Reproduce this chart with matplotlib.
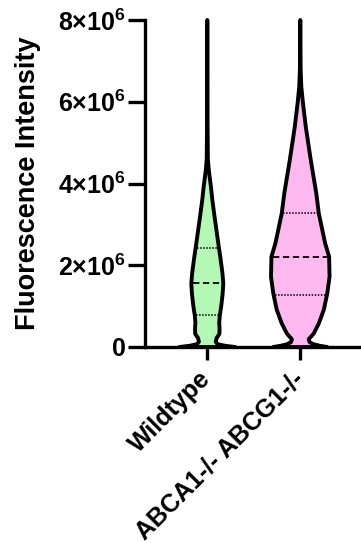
import numpy as np
import matplotlib
matplotlib.use("Agg")
import matplotlib.pyplot as plt
from matplotlib.ticker import FixedLocator, FuncFormatter

# ---------------- data ----------------
categories = ["Wildtype", "ABCA1-/- ABCG1-/-"]
fill_colors = ["#B4F8B6", "#FDB9F0"]

# violin profiles: intensity levels (x10^6) and half-widths (category units)
wt_levels = [0.00, 0.03, 0.07, 0.13, 0.22, 0.32, 0.45, 0.60, 0.78, 1.00, 1.30,
             1.56, 1.80, 1.96, 2.20, 2.41, 2.80, 3.19, 3.60, 3.90, 4.33, 4.60,
             5.50, 8.00]
wt_halfw = [0.300, 0.190, 0.110, 0.090, 0.100, 0.130, 0.132, 0.128, 0.135, 0.150,
            0.165, 0.172, 0.163, 0.154, 0.140, 0.126, 0.102, 0.078, 0.054, 0.040,
            0.016, 0.006, 0.003, 0.000]

ko_levels = [0.00, 0.03, 0.07, 0.12, 0.19, 0.33, 0.58, 0.91, 1.31, 1.72, 2.21,
             2.54, 3.27, 3.76, 4.57, 5.39, 6.00, 6.37, 6.80, 8.00]
ko_halfw = [0.290, 0.210, 0.140, 0.100, 0.090, 0.145, 0.200, 0.253, 0.290, 0.315,
            0.310, 0.267, 0.199, 0.172, 0.113, 0.059, 0.027, 0.011, 0.004, 0.000]

medians = [1.56, 2.19]
q1s = [0.78, 1.28]
q3s = [2.41, 3.27]

yticks = [0, 2, 4, 6, 8]
ylabel = "Fluorescence Intensity"

# ---------------- plotting ----------------
plt.rcParams["font.family"] = ["Liberation Sans", "DejaVu Sans"]
plt.rcParams["font.weight"] = "bold"
plt.rcParams["mathtext.default"] = "regular"

fig = plt.figure(figsize=(3.61, 5.43), dpi=100)
ax = fig.add_axes([145 / 361, 196 / 543, 1 - 145 / 361, 327 / 543])

profiles = [(np.array(wt_levels) * 1e6, np.array(wt_halfw)),
            (np.array(ko_levels) * 1e6, np.array(ko_halfw))]

for i, (lv, hw) in enumerate(profiles):
    xs = np.concatenate([i - hw, (i + hw)[::-1]])
    ys = np.concatenate([lv, lv[::-1]])
    ax.fill(xs, ys, facecolor=fill_colors[i], edgecolor="black", linewidth=2.8,
            joinstyle="round", clip_on=False, zorder=3)
    for val, style, lw in [(medians[i], (0, (3.5, 2.0)), 1.3),
                           (q1s[i], (0, (1.0, 1.0)), 1.1),
                           (q3s[i], (0, (1.0, 1.0)), 1.1)]:
        w = np.interp(val * 1e6, lv, hw) - 0.014
        ax.plot([i - w, i + w], [val * 1e6, val * 1e6], color="black",
                linestyle=style, linewidth=lw, zorder=4)

ax.set_xlim(-0.67, 1.653)
ax.set_ylim(0, 8e6)

ax.yaxis.set_major_locator(FixedLocator([v * 1e6 for v in yticks]))

def fmt(v, pos):
    m = v / 1e6
    if m == 0:
        return "0"
    return "%d×10$^{6}$" % round(m)

ax.yaxis.set_major_formatter(FuncFormatter(fmt))
ax.set_xticks(range(len(categories)))
ax.set_xticklabels(categories, rotation=45, ha="right", va="center",
                   rotation_mode="anchor")

for s in ["top", "right"]:
    ax.spines[s].set_visible(False)
for s in ["left", "bottom"]:
    ax.spines[s].set_linewidth(2.4)
    ax.spines[s].set_capstyle("projecting")

ax.tick_params(axis="both", width=2.4, labelsize=18)
ax.tick_params(axis="y", length=12, pad=2)
ax.tick_params(axis="x", length=9, pad=11)
for lab in ax.get_xticklabels() + ax.get_yticklabels():
    lab.set_fontweight("bold")

ax.set_ylabel(ylabel, fontsize=19.5, fontweight="bold", labelpad=12)

fig.savefig("out.png", dpi=100)
